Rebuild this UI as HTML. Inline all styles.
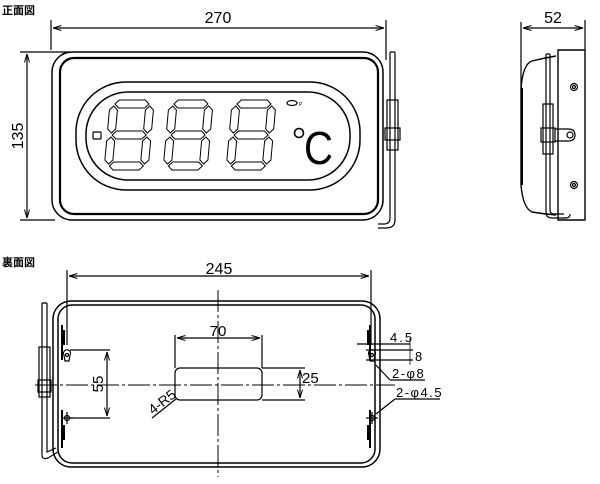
<!DOCTYPE html>
<html><head><meta charset="utf-8"><style>
html,body{margin:0;padding:0;background:#fff}
svg{display:block}
text{font-family:"Liberation Sans","Noto Sans CJK JP",sans-serif;fill:#000}
</style></head><body>
<svg id="s" width="600" height="484" viewBox="0 0 600 484" xmlns="http://www.w3.org/2000/svg" fill="none" stroke="#000" stroke-width="1.2">
<defs><marker id="a" viewBox="0 0 10 10" refX="10" refY="5" markerWidth="7" markerHeight="7" orient="auto-start-reverse"><path d="M0,2 L10,5 L0,8" fill="none" stroke="#000"/></marker></defs>
<!-- FRONT -->
<text x="2" y="14" font-size="11" stroke="none" font-weight="bold">正面図</text>
<line x1="51" y1="20" x2="51" y2="50"/><line x1="386" y1="20" x2="386" y2="60"/>
<line x1="53" y1="28" x2="384" y2="28" marker-start="url(#a)" marker-end="url(#a)"/>
<text x="218" y="23" font-size="16" stroke="none" text-anchor="middle">270</text>
<line x1="20" y1="52" x2="70" y2="52"/><line x1="20" y1="220" x2="55" y2="220"/>
<line x1="27" y1="54" x2="27" y2="218" marker-start="url(#a)" marker-end="url(#a)"/>
<text transform="translate(23,136) rotate(-90)" font-size="16" stroke="none" text-anchor="middle">135</text>
<rect x="52" y="52" width="331" height="168" rx="20" stroke-width="1.5"/>
<rect x="60" y="58" width="318" height="156" rx="14" stroke-width="2.2"/>
<rect x="76" y="82" width="284" height="108" rx="50" stroke-width="1.5"/>
<rect x="86" y="92" width="264" height="88" rx="42" stroke-width="1.5"/>
<rect x="93" y="132" width="8" height="7" rx="1"/>
<ellipse cx="292" cy="103" rx="5" ry="2.5"/>
<text x="299" y="106" font-size="5" stroke="none">P</text>
<circle cx="299" cy="133" r="4.5" stroke-width="1.6"/>
<text x="304" y="164" font-size="46" stroke="none" textLength="29" lengthAdjust="spacingAndGlyphs">C</text>
<g id="digits" stroke-width="1"></g>
<!-- cable front -->
<path d="M390,52 V218 Q390,224 384,224 H378 M395,52 V220 Q395,228 386,228 H378 M390,52 H395"/>
<rect x="387" y="100" width="11" height="50"/><rect x="385" y="128" width="15" height="12"/>
<!-- SIDE -->
<text x="553" y="23" font-size="16" stroke="none" text-anchor="middle">52</text>
<line x1="521" y1="22" x2="521" y2="88"/><line x1="585" y1="20" x2="585" y2="50"/>
<line x1="523" y1="28" x2="583" y2="28" marker-start="url(#a)" marker-end="url(#a)"/>
<path d="M558,50 H585 V220 H558 Z" stroke-width="1.4"/>
<path d="M556,56 Q544,58 532,61 Q523,64 521,88 V185 Q523,208 532,212 Q544,214 556,215" stroke-width="1.4"/>
<line x1="522" y1="88" x2="522" y2="185" stroke-width="2"/>
<path d="M546,54 V212 Q546,218 552,218 H566 Q570,218 570,214 M550,54 V210 Q550,214 554,214 H564" />
<line x1="546" y1="54" x2="550" y2="54"/>
<rect x="543" y="104" width="10" height="50"/><rect x="541" y="128" width="14" height="14"/>
<path d="M555,129 H568 Q575,129 575,135 Q575,141 568,141 H555"/>
<circle cx="570" cy="135" r="3"/><circle cx="574" cy="87" r="3.5"/><circle cx="574" cy="87" r="1.5"/><circle cx="574" cy="185" r="3.5"/><circle cx="574" cy="185" r="1.5"/>
<!-- BACK -->
<text x="2" y="266" font-size="11" stroke="none" font-weight="bold">裏面図</text>
<line x1="67" y1="270" x2="67" y2="345"/><line x1="371" y1="270" x2="371" y2="345"/>
<line x1="69" y1="276" x2="369" y2="276" marker-start="url(#a)" marker-end="url(#a)"/>
<text x="219" y="274" font-size="16" stroke="none" text-anchor="middle">245</text>
<rect x="53" y="301" width="327" height="166" rx="18" stroke-width="1.5"/>
<rect x="58" y="305" width="317" height="158" rx="14" stroke-width="1.5"/>
<path d="M62,325 V360 M64,330 V345 M62,410 V448 M64,425 V440 M370,325 V360 M368,330 V345 M370,410 V448 M368,425 V440" stroke-width="2"/>
<line x1="35" y1="385" x2="395" y2="385" stroke-dasharray="22,3,3,3" stroke-width="1"/>
<line x1="218" y1="290" x2="218" y2="477" stroke-dasharray="22,3,3,3" stroke-width="1"/>
<rect x="175" y="368" width="87" height="32" rx="5"/>
<line x1="175" y1="335" x2="175" y2="368"/><line x1="262" y1="335" x2="262" y2="368"/>
<line x1="177" y1="338" x2="260" y2="338" marker-start="url(#a)" marker-end="url(#a)"/>
<text x="218" y="336" font-size="15" stroke="none" text-anchor="middle">70</text>
<line x1="262" y1="368" x2="305" y2="368"/><line x1="262" y1="400" x2="305" y2="400"/>
<line x1="300" y1="370" x2="300" y2="398" marker-start="url(#a)" marker-end="url(#a)"/>
<text x="302" y="383" font-size="15" stroke="none">25</text>
<line x1="70" y1="350" x2="110" y2="350"/><line x1="70" y1="418" x2="110" y2="418"/>
<line x1="107" y1="352" x2="107" y2="416" marker-start="url(#a)" marker-end="url(#a)"/>
<text transform="translate(103,384) rotate(-90)" font-size="15" stroke="none" text-anchor="middle">55</text>
<line x1="152" y1="418" x2="176" y2="399"/>
<text transform="translate(153,415) rotate(-38)" font-size="14" stroke="none">4-R5</text>
<path d="M64,355 a3.5,3.5 0 1 1 6,0 l-1,6 h-4 z"/><circle cx="67" cy="355" r="1.5"/>
<path d="M369,355 a3.5,3.5 0 1 1 6,0 l-1,6 h-4 z"/><circle cx="372" cy="355" r="1.5"/>
<circle cx="67" cy="418" r="2.5"/><line x1="61" y1="418" x2="73" y2="418"/><line x1="67" y1="412" x2="67" y2="424"/>
<circle cx="372" cy="418" r="2.5"/><line x1="366" y1="418" x2="378" y2="418"/><line x1="372" y1="412" x2="372" y2="424"/>
<line x1="357" y1="344" x2="410" y2="344"/><line x1="366" y1="350" x2="413" y2="350"/><line x1="366" y1="360" x2="413" y2="360"/>
<line x1="410" y1="338" x2="410" y2="365" stroke-width="0.8"/>
<text x="390" y="342" font-size="13" stroke="none" letter-spacing="2">4.5</text>
<text x="415" y="361" font-size="13" stroke="none">8</text>
<line x1="376" y1="365" x2="390" y2="380"/><line x1="390" y1="380" x2="425" y2="380"/>
<text x="392" y="378" font-size="13" stroke="none" letter-spacing="1.5">2-φ8</text>
<line x1="376" y1="414" x2="395" y2="399"/><line x1="395" y1="399" x2="440" y2="399"/>
<text x="396" y="397" font-size="13" stroke="none" letter-spacing="1.5">2-φ4.5</text>
<path d="M42,303 V455 Q42,460 48,458 L58,452 M47,303 V452 L56,448 M42,303 H47"/>
<rect x="39" y="347" width="11" height="50"/><rect x="38" y="380" width="13" height="12"/>
</svg>
<script>
var g=document.getElementById('digits'),ns='http://www.w3.org/2000/svg';
function hs(a,b,c,t){return [[a,c],[a+t/2,c-t/2],[b-t/2,c-t/2],[b,c],[b-t/2,c+t/2],[a+t/2,c+t/2]];}
function vs(x,a,b,t){return [[x,a],[x+t/2,a+t/2],[x+t/2,b-t/2],[x,b],[x-t/2,b-t/2],[x-t/2,a+t/2]];}
[[104,100],[163,100],[226,100]].forEach(function(p){
 var w=44,h=70,t=8,m=h/2;
 var segs=[hs(5,w-5,4,t),hs(5,w-5,m,t),hs(5,w-5,h-4,t),vs(4,6,m-2,t),vs(w-4,6,m-2,t),vs(4,m+2,h-6,t),vs(w-4,m+2,h-6,t)];
 segs.forEach(function(s){var e=document.createElementNS(ns,'polygon');
  e.setAttribute('points',s.map(function(q){var sk=(h-q[1])*0.09;return (p[0]+q[0]+sk)+','+(p[1]+q[1]);}).join(' '));
  g.appendChild(e);});
});
</script>
</body></html>
